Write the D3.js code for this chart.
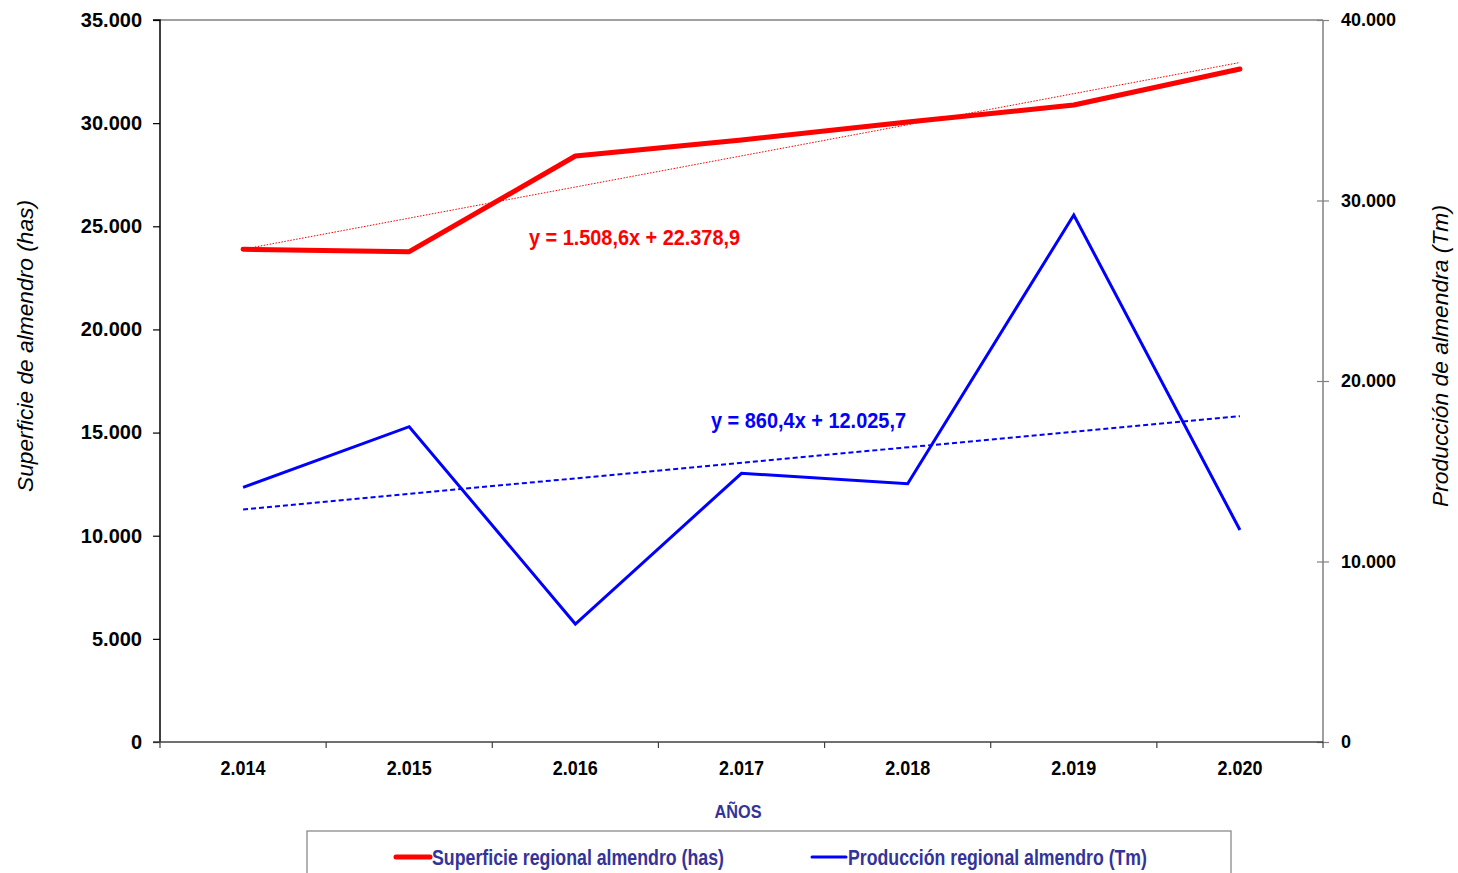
<!DOCTYPE html>
<html><head><meta charset="utf-8">
<script src="https://cdn.jsdelivr.net/npm/d3@7"></script>
<style>
body{margin:0;background:#fff;}
svg{display:block;}
.narrow{font-family:'Liberation Sans',Arial,sans-serif;font-weight:bold;}
.arial{font-family:'Liberation Sans',Arial,sans-serif;font-weight:bold;}
</style></head><body>
<svg id="c" width="1458" height="873"></svg>
<script>
const years = ["2.014","2.015","2.016","2.017","2.018","2.019","2.020"];
const superficie = [23885, 23768, 28407, 29183, 30055, 30880, 32625];
const produccion = [14111, 17468, 6537, 14886, 14310, 29197, 11745];
const trendSup = {slope: 1508.6, intercept: 22378.9};
const trendProd = {slope: 860.4, intercept: 12025.7};
const leftTicks = [0,5000,10000,15000,20000,25000,30000,35000];
const rightTicks = [0,10000,20000,30000,40000];
const labels = {
  left: "Superficie de almendro (has)",
  right: "Producción de almendra (Tm)",
  x: "AÑOS",
  sup: "Superficie regional almendro (has)",
  prod: "Producción regional almendro (Tm)",
  eqSup: "y = 1.508,6x + 22.378,9",
  eqProd: "y = 860,4x + 12.025,7"
};

const svg = d3.select("#c");
const L=160, R=1323, T=20, B=742;
const x = d3.scaleBand().domain(years).range([L,R]);
const yL = d3.scaleLinear().domain([0,35000]).range([B,T]);
const yR = d3.scaleLinear().domain([0,40000]).range([B,T]);
const fmt = v => d3.format(",")(v).replace(/,/g,".");
const cx = d => x(d)+x.bandwidth()/2;
const narrowFit = (sel, w) => sel.attr("textLength", w).attr("lengthAdjust","spacingAndGlyphs");

// top border
svg.append("line").attr("x1",L).attr("x2",R).attr("y1",T).attr("y2",T).attr("stroke","#808080").attr("stroke-width",1.5);

// left axis
const gl = svg.append("g").attr("transform",`translate(${L},0)`)
  .call(d3.axisLeft(yL).tickValues(leftTicks).tickFormat(fmt).tickSize(7).tickPadding(11));
gl.select(".domain").attr("stroke","#000").attr("stroke-width",1.5).attr("d",`M-7,${T}H0V${B}`);
gl.selectAll(".tick line").attr("stroke","#000").attr("stroke-width",1.2);
gl.selectAll("text").attr("class","arial").style("font-size","20px").attr("fill","#000");

// right axis
const gr = svg.append("g").attr("transform",`translate(${R},0)`)
  .call(d3.axisRight(yR).tickValues(rightTicks).tickFormat(fmt).tickSize(6).tickPadding(12));
gr.select(".domain").attr("stroke","#808080").attr("stroke-width",1.5).attr("d",`M0,${T}V${B}`);
gr.selectAll(".tick line").attr("stroke","#808080").attr("stroke-width",1.2).attr("x1",-6);
gr.selectAll("text").attr("class","arial").style("font-size","18px").attr("fill","#000");

// bottom axis
const gb = svg.append("g").attr("transform",`translate(0,${B})`)
  .call(d3.axisBottom(x).tickSize(0));
gb.select(".domain").attr("stroke","#404040").attr("stroke-width",1.5).attr("d",`M${L-7},0H${R}`);
gb.selectAll("text").attr("class","narrow").attr("dy",null).attr("y",33)
  .style("font-size","21px").attr("fill","#000").call(narrowFit, 45);
const bounds = years.map(d=>x(d)).concat([R]);
svg.append("g").selectAll("line").data(bounds).join("line")
  .attr("x1",d=>d).attr("x2",d=>d).attr("y1",B).attr("y2",B+6)
  .attr("stroke","#404040").attr("stroke-width",1.2);

// titles
svg.append("text").attr("transform",`translate(33,346) rotate(-90)`).attr("text-anchor","middle")
  .style("font-family","'Liberation Sans',Arial,sans-serif").style("font-style","italic").style("font-size","22px").attr("fill","#000").text(labels.left).call(narrowFit, 292);
svg.append("text").attr("transform",`translate(1448,356) rotate(-90)`).attr("text-anchor","middle")
  .style("font-family","'Liberation Sans',Arial,sans-serif").style("font-style","italic").style("font-size","22px").attr("fill","#000").text(labels.right).call(narrowFit, 302);
svg.append("text").attr("class","narrow").attr("x",738).attr("y",818).attr("text-anchor","middle")
  .style("font-size","18px").attr("fill","#333399").text(labels.x).call(narrowFit, 47);

// trend lines
const n = years.length;
const trendLine = (t, ys) => d3.line().x(d=>cx(years[d])).y(d=>ys(t.slope*(d+1)+t.intercept));
const idx = [0, n-1];
svg.append("path").datum(idx).attr("d",trendLine(trendSup,yL)).attr("fill","none")
  .attr("stroke","#ff0000").attr("stroke-width",1).attr("stroke-dasharray","1.5,1.5");
svg.append("path").datum(idx).attr("d",trendLine(trendProd,yR)).attr("fill","none")
  .attr("stroke","#0000ff").attr("stroke-width",2).attr("stroke-dasharray","5,3");

// series
svg.append("path").datum(superficie).attr("d",d3.line().x((d,i)=>cx(years[i])).y(d=>yL(d)))
  .attr("fill","none").attr("stroke","#ff0000").attr("stroke-width",5).attr("stroke-linejoin","round").attr("stroke-linecap","round");
svg.append("path").datum(produccion).attr("d",d3.line().x((d,i)=>cx(years[i])).y(d=>yR(d)))
  .attr("fill","none").attr("stroke","#0000ff").attr("stroke-width",3).attr("stroke-linejoin","miter");

// equations
svg.append("text").attr("class","narrow").attr("x",529).attr("y",245).style("font-size","22px").attr("fill","#ff0000").text(labels.eqSup).call(narrowFit, 211);
svg.append("text").attr("class","narrow").attr("x",711).attr("y",428).style("font-size","22px").attr("fill","#0000ff").text(labels.eqProd).call(narrowFit, 195);

// legend
svg.append("rect").attr("x",307).attr("y",831).attr("width",924).attr("height",60)
  .attr("fill","#fff").attr("stroke","#808080").attr("stroke-width",1.2);
const leg = [{t:labels.sup,c:"#ff0000",w:5,x:396,tw:292},{t:labels.prod,c:"#0000ff",w:3,x:812,tw:299}];
leg.forEach(l=>{
  svg.append("line").attr("x1",l.x).attr("x2",l.x+34).attr("y1",857).attr("y2",857).attr("stroke",l.c).attr("stroke-width",l.w).attr("stroke-linecap","round");
  svg.append("text").attr("x",l.x+36).attr("y",865)
    .style("font-family","'Liberation Sans',Arial,sans-serif").style("font-size","22px").style("font-weight","bold")
    .attr("fill","#333399").text(l.t).call(narrowFit, l.tw);
});
</script></body></html>
